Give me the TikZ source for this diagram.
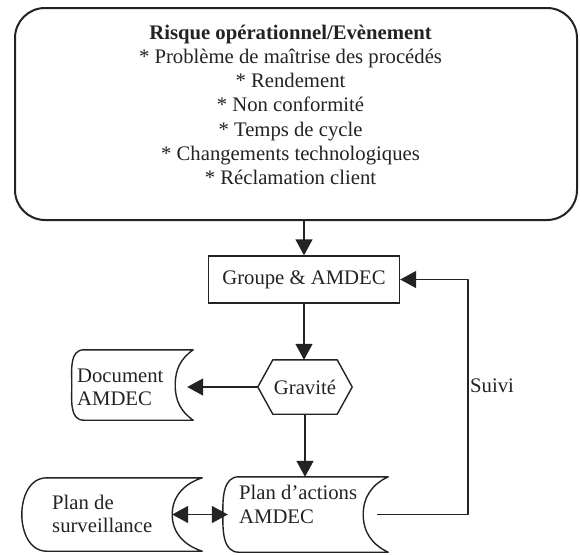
\documentclass[tikz,border=0pt]{standalone}
\usepackage{fontspec}
\setmainfont{Liberation Serif}
\usetikzlibrary{arrows.meta,calc}
\definecolor{ink}{RGB}{35,35,35}
\newcommand\fsz{\fontsize{20.7}{24.3}\selectfont}
\newcommand\fszb{\fontsize{20.7}{22.5}\selectfont}
\newcommand\sdshape[4]{%
  \draw[line] ([xshift=#2]#1.north west) -- (#1.north east)
    to[out=#4,in=90] ([xshift=-#3]#1.east)
    to[out=-90,in=-#4] (#1.south east)
    -- ([xshift=#2]#1.south west)
    to[out=180,in=-90] (#1.west)
    to[out=90,in=180] cycle;}
\begin{document}
\begin{tikzpicture}[x=1pt,y=1pt,
  line/.style={draw=ink, line width=1.4pt, line join=round},
  arr/.style={line, -{Triangle[length=16pt,width=17pt]}},
  darr/.style={line, {Triangle[length=16pt,width=17pt]}-{Triangle[length=16pt,width=17pt]}},
  txt/.style={text=ink, inner sep=0pt, font=\fsz},
  plainbox/.style={draw=ink, line width=1.4pt, inner sep=0pt, text=ink, font=\fsz},
  sd/.style={inner sep=0pt}]
\useasboundingbox (0,0) rectangle (580,-554);
\fill[white] (0,0) rectangle (580,-554);

% top box
\node[draw=ink, line width=2pt, rounded corners=30pt, minimum width=562pt,
      minimum height=212pt, inner sep=0pt] (top) at (296,-114) {};
\node[txt, align=center, anchor=north] (toptxt) at (290.5,-24.5)
  {\textbf{Risque opérationnel/Evènement}\\{}* Problème de maîtrise des procédés\\{}* Rendement\\{}* Non conformité\\{}* Temps de cycle\\{}* Changements technologiques\\{}* Réclamation client};

% Groupe & AMDEC
\node[plainbox, minimum width=191pt, minimum height=47pt] (grp) at (304,-279.5) {Groupe \& AMDEC};

% Gravite hexagon
\node[txt, minimum width=94pt, minimum height=54pt] (grav) at (305,-387) {Gravité};
\draw[line] (grav.west) -- ([xshift=15pt]grav.north west) -- ([xshift=-15pt]grav.north east)
  -- (grav.east) -- ([xshift=-15pt]grav.south east) -- ([xshift=15pt]grav.south west) -- cycle;

% Document AMDEC
\node[sd, minimum width=121pt, minimum height=70pt] (doc) at (132.5,-385) {};
\sdshape{doc}{12pt}{18pt}{-145}
\node[txt, font=\fszb, align=left, anchor=west] (doctxt) at (77,-387.5) {Document\\AMDEC};

% Plan de surveillance
\node[sd, minimum width=180pt, minimum height=73pt] (ps) at (112,-514.5) {};
\sdshape{ps}{25pt}{30pt}{-162}
\node[txt, font=\fszb, align=left, anchor=west] (pstxt) at (52,-514) {Plan de\\surveillance};

% Plan d'actions AMDEC
\node[sd, minimum width=165pt, minimum height=75pt] (pa) at (305.5,-514.5) {};
\sdshape{pa}{16pt}{25pt}{-155}
\node[txt, align=left, anchor=west] (patxt) at (239,-504.5) {Plan d’actions\\AMDEC};

% connectors
\draw[arr] (top.south -| grp.north) -- (grp.north);
\draw[arr] (grp.south) -- (grp.south |- grav.north);
\draw[arr] (grav.west) -- ($(doc.east |- grav.west)+(-6,0)$);
\draw[arr] (grav.south) -- (grav.south |- pa.north);
\draw[darr] ($(ps.east)+(-30,0)$) -- ($(pa.west)+(5,0)$);
\coordinate (fbc) at (468,-279.5);
\draw[arr] ($(pa.east)+(-11,0)$) -| (fbc) -- (grp.east);
\node[txt, anchor=west] (suivi) at (470,-386) {Suivi};
\end{tikzpicture}
\end{document}
